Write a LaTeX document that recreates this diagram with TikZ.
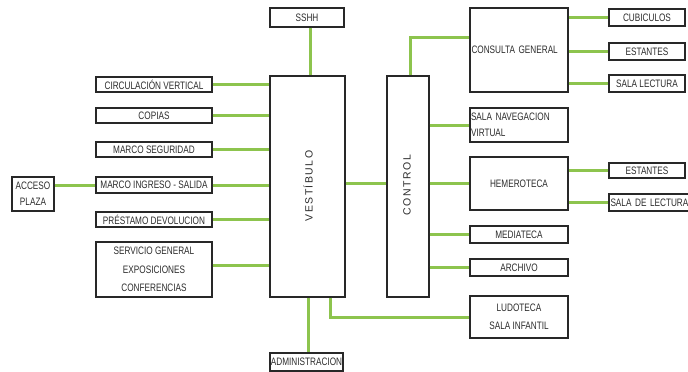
\documentclass[tikz,border=0pt]{standalone}
\usepackage{fontspec}
\setmainfont{Liberation Sans}
\newfontfamily\narrowfont{Liberation Sans}[FakeStretch=0.76]
\newfontfamily\spacedfont{Liberation Sans}[LetterSpace=14]
\definecolor{lgreen}{RGB}{141,196,78}
\definecolor{boxline}{RGB}{40,40,40}
\definecolor{txt}{RGB}{45,45,45}
\tikzset{
  box/.style={draw=boxline, line width=1.3pt, fill=white, inner sep=0pt, text=txt,
    font=\narrowfont\fontsize{10.8}{16}\selectfont},
  vlabel/.style={rotate=90, text=txt, font=\spacedfont\fontsize{10.5}{12}\selectfont},
  link/.style={draw=lgreen, line width=3pt},
}
\begin{document}
\begin{tikzpicture}[x=1pt,y=-1pt]
\useasboundingbox (0,0) rectangle (688,372);
\fill[white] (0,0) rectangle (688,372);
\clip (0,0) rectangle (688,372);
% left column
\node[box, minimum width=74pt, minimum height=19pt] (sshh) at (307,17.5) {SSHH};
\node[box, minimum width=75pt, minimum height=221pt] (vest) at (307.5,186.5) {};
\node[vlabel] (vestlbl) at (308,186) {VESTÍBULO};
\node[box, minimum width=116pt, minimum height=15pt] (circ) at (154,84.5) {CIRCULACIÓN VERTICAL};
\node[box, minimum width=116pt, minimum height=15pt] (copias) at (154,115.5) {COPIAS};
\node[box, minimum width=116pt, minimum height=15pt] (mseg) at (154,149.5) {MARCO SEGURIDAD};
\node[box, minimum width=116pt, minimum height=16pt] (ming) at (154,185) {MARCO INGRESO - SALIDA};
\node[box, minimum width=42pt, minimum height=34pt, align=center] (acceso) at (33,194) {ACCESO\\PLAZA};
\node[box, minimum width=116pt, minimum height=15pt] (prest) at (154,219.5) {PRÉSTAMO DEVOLUCION};
\node[box, minimum width=116pt, minimum height=55pt, align=center,
  font=\narrowfont\fontsize{10.8}{18.5}\selectfont] (serv) at (154,269.5) {SERVICIO GENERAL\\EXPOSICIONES\\CONFERENCIAS};
\node[box, minimum width=73pt, minimum height=18pt] (admin) at (306.5,362) {ADMINISTRACION};
% control column
\node[box, minimum width=42pt, minimum height=221pt] (ctrl) at (408,186.5) {};
\node[vlabel] (ctrllbl) at (407,185) {CONTROL};
\node[box, minimum width=98pt, minimum height=84pt, text width=95pt, align=left] (cons) at (519,50) {CONSULTA GENERAL};
\node[box, minimum width=98pt, minimum height=34pt, text width=96pt, align=left] (snav) at (519,125) {SALA NAVEGACION\\VIRTUAL};
\node[box, minimum width=98pt, minimum height=53pt] (hem) at (519,183.5) {HEMEROTECA};
\node[box, minimum width=98pt, minimum height=17pt] (media) at (519,234.5) {MEDIATECA};
\node[box, minimum width=98pt, minimum height=17pt] (arch) at (519,267.5) {ARCHIVO};
\node[box, minimum width=98pt, minimum height=42pt, align=center,
  font=\narrowfont\fontsize{10.8}{18}\selectfont] (ludo) at (519,317) {LUDOTECA\\SALA INFANTIL};
% right column
\node[box, minimum width=76pt, minimum height=17pt] (cub) at (647,17.5) {CUBICULOS};
\node[box, minimum width=76pt, minimum height=17pt] (est1) at (647,51.5) {ESTANTES};
\node[box, minimum width=76pt, minimum height=17pt] (slect) at (647,83.5) {SALA LECTURA};
\node[box, minimum width=76pt, minimum height=15pt] (est2) at (647,170.5) {ESTANTES};
\node[box, minimum width=90pt, minimum height=17pt, text width=87pt, align=left] (sdlect) at (654,202.5) {SALA DE LECTURA};
% connectors
\draw[link] ([xshift=3pt]sshh.south) -- ([xshift=3pt]sshh.south |- vest.north);
\draw[link] (circ.east) -- (circ.east -| vest.west);
\draw[link] (copias.east) -- (copias.east -| vest.west);
\draw[link] (mseg.east) -- (mseg.east -| vest.west);
\draw[link] (ming.east) -- (ming.east -| vest.west);
\draw[link] (acceso.east |- ming.west) -- (ming.west);
\draw[link] (prest.east) -- (prest.east -| vest.west);
\draw[link] ([yshift=4pt]serv.east) -- ([yshift=4pt]serv.east -| vest.west);
\draw[link] ([xshift=1pt]vest.south) -- ([xshift=1pt]vest.south |- admin.north);
\draw[link] ([xshift=23pt]vest.south) |- (ludo.west);
\draw[link] ([yshift=3pt]vest.east) -- ([yshift=3pt]vest.east -| ctrl.west);
\draw[link] ([xshift=2pt]ctrl.north) |- ([yshift=13pt]cons.west);
\draw[link] (cons.east |- cub.west) -- (cub.west);
\draw[link] (cons.east |- est1.west) -- (est1.west);
\draw[link] (cons.east |- slect.west) -- (slect.west);
\draw[link] (ctrl.east |- snav.west) -- (snav.west);
\draw[link] (ctrl.east |- hem.west) -- (hem.west);
\draw[link] (hem.east |- est2.west) -- (est2.west);
\draw[link] (hem.east |- sdlect.west) -- (sdlect.west);
\draw[link] (ctrl.east |- media.west) -- (media.west);
\draw[link] (ctrl.east |- arch.west) -- (arch.west);
\end{tikzpicture}
\end{document}
